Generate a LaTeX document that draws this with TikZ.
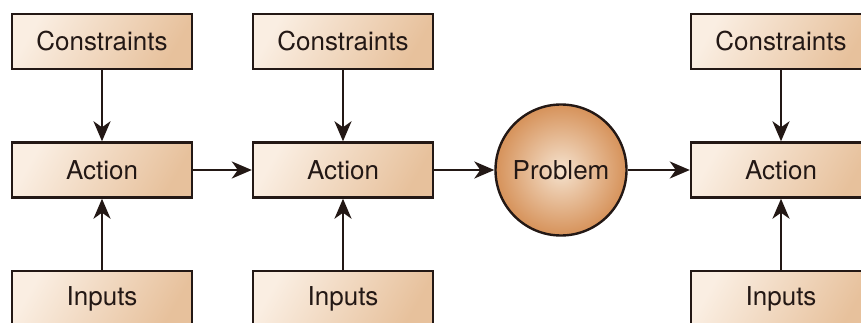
\documentclass[tikz,border=0pt]{standalone}
\usepackage{fontspec}
\setmainfont{TeX Gyre Heros}
\usetikzlibrary{arrows.meta}
\definecolor{boxlight}{HTML}{FAEEE2}
\definecolor{boxdark}{HTML}{E7C19C}
\definecolor{ballin}{HTML}{F5E2CE}
\definecolor{ballout}{HTML}{D6925A}
\definecolor{ink}{HTML}{231815}
\tikzset{
  stagebox/.style={draw=ink, line width=2.4pt, minimum width=180pt, minimum height=55pt,
    inner sep=0pt, top color=boxlight, bottom color=boxdark, shading angle=60,
    font=\fontsize{26}{30}\selectfont, text=ink},
  ball/.style={circle, draw=ink, line width=2.4pt, minimum size=131pt, inner sep=0pt,
    inner color=ballin, outer color=ballout, font=\fontsize{26}{30}\selectfont, text=ink},
  link/.style={draw=ink, line width=2.5pt, -{Stealth[length=20pt,width=17pt,inset=6pt]}}
}
\begin{document}
\begin{tikzpicture}[x=1pt,y=-1pt]
\useasboundingbox (0,0) rectangle (861,323);
% column 1
\node[stagebox] (c1) at (102,41.5) {Constraints};
\node[stagebox] (a1) at (102,170) {Action};
\node[stagebox] (i1) at (102,298.5) {Inputs};
% column 2
\node[stagebox] (c2) at (343,41.5) {Constraints};
\node[stagebox] (a2) at (343,170) {Action};
\node[stagebox] (i2) at (343,298.5) {Inputs};
% problem
\node[ball] (p) at (561,170) {Problem};
% column 3
\node[stagebox] (c3) at (781,41.5) {Constraints};
\node[stagebox] (a3) at (781,170) {Action};
\node[stagebox] (i3) at (781,298.5) {Inputs};
% connectors
\foreach \k in {1,2,3}{
  \draw[link] (c\k) -- (a\k);
  \draw[link] (i\k) -- (a\k);
}
\draw[link] (a1) -- (a2);
\draw[link] (a2) -- (p);
\draw[link] (p) -- (a3);
\end{tikzpicture}
\end{document}
